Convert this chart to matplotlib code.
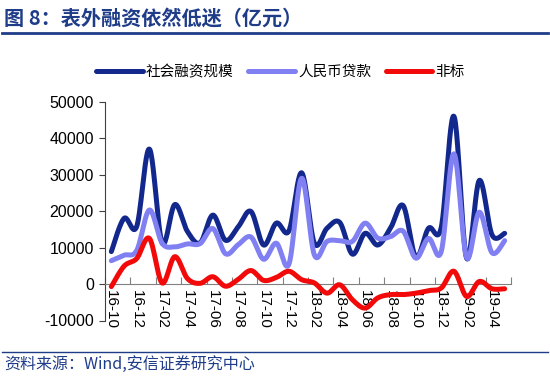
import numpy as np
import matplotlib
matplotlib.use('Agg')
import matplotlib.pyplot as plt
from matplotlib.lines import Line2D

months = ['16-10', '16-11', '16-12', '17-01', '17-02', '17-03', '17-04', '17-05',
          '17-06', '17-07', '17-08', '17-09', '17-10', '17-11', '17-12', '18-01',
          '18-02', '18-03', '18-04', '18-05', '18-06', '18-07', '18-08', '18-09',
          '18-10', '18-11', '18-12', '19-01', '19-02', '19-03', '19-04', '19-05']

tsf = [8900, 18000, 15800, 37000, 11300, 21800, 14400, 11300, 18900, 12000,
       15700, 19900, 10700, 16700, 14600, 30500, 11200, 15300, 16900, 8200,
       13900, 10700, 15300, 21500, 7400, 15300, 15500, 46000, 7100, 28400,
       13500, 13900]

loans = [6400, 7900, 9200, 20300, 11200, 10200, 11000, 11100, 15200, 8300,
         10800, 12900, 6800, 11200, 5500, 29000, 8000, 11700, 11900, 11700,
         16700, 12600, 13000, 14500, 7100, 12500, 8900, 35700, 7300, 19700,
         8600, 11900]

nonstd = [-700, 4900, 7000, 12500, 300, 7500, 1500, 200, 2000, -600,
          1300, 3700, 1000, 1800, 3500, 1200, 300, -2500, -200, -4300,
          -6600, -3800, -2900, -2900, -2500, -1800, -1100, 3500, -3400, 700,
          -1300, -1300]

series_names = ['社会融资规模', '人民币贷款', '非标']
series_colors = ['#13288C', '#8080F2', '#F20A0A']
yticks = [-10000, 0, 10000, 20000, 30000, 40000, 50000]

NAVY = '#1F3C88'
CJK = ['Noto Sans CJK SC', 'DejaVu Sans']
LAT = ['Liberation Sans', 'DejaVu Sans']


def smooth(xv, yv, n=24):
    xv = np.asarray(xv, float)
    yv = np.asarray(yv, float)
    px = np.concatenate([[xv[0]], xv, [xv[-1]]])
    py = np.concatenate([[yv[0]], yv, [yv[-1]]])
    t = np.linspace(0, 1, n, endpoint=False)
    ox, oy = [], []
    for i in range(1, len(px) - 2):
        for p, o in ((px, ox), (py, oy)):
            p0, p1, p2, p3 = p[i - 1], p[i], p[i + 1], p[i + 2]
            c1 = p1 + (p2 - p0) / 6.0
            c2 = p2 - (p3 - p1) / 6.0
            b = ((1 - t) ** 3 * p1 + 3 * (1 - t) ** 2 * t * c1
                 + 3 * (1 - t) * t ** 2 * c2 + t ** 3 * p2)
            o.extend(b)
    ox.append(xv[-1])
    oy.append(yv[-1])
    return np.array(ox), np.array(oy)


fig = plt.figure(figsize=(5.5, 3.76), dpi=100)
ax = fig.add_axes([105 / 550, 1 - 320.5 / 376, (511 - 105) / 550, (320.5 - 101.7) / 376])

for s in ['top', 'right']:
    ax.spines[s].set_visible(False)
ax.spines['bottom'].set_position(('data', 0))
ax.spines['bottom'].set_color('#808080')
ax.spines['left'].set_color('#404040')
ax.spines['left'].set_linewidth(0.8)

x = np.arange(len(months))
for vals, name, col, z in zip([tsf, loans, nonstd], series_names, series_colors, [3, 4, 5]):
    sx, sy = smooth(x, vals)
    ax.plot(sx, sy, color=col, lw=3.6, solid_capstyle='round', label=name, zorder=z)

ax.set_xlim(-0.5, len(months) - 0.5)
ax.set_ylim(-10000, 50000)
ax.set_yticks(yticks)
ax.set_yticklabels([str(v) for v in yticks], family=LAT, fontsize=11.5)
ax.tick_params(axis='y', direction='out', length=4, width=0.8, pad=4, color='#404040')

ax.set_xticks(x[::2])
ax.set_xticklabels(months[::2], family=LAT, fontsize=11)
ax.set_xticks(np.arange(-0.5, len(months), 2), minor=True)
ax.tick_params(axis='x', which='major', length=0, pad=4, labelrotation=-90)
ax.tick_params(axis='x', which='minor', direction='in', length=5, width=0.8, color='#808080')
for lab in ax.get_xticklabels():
    lab.set_va('top')
    lab.set_ha('center')

fig.legend(loc='center', bbox_to_anchor=(0.51, 1 - 72 / 376), ncol=3, frameon=False,
           prop={'family': CJK, 'size': 10.5}, handlelength=3.2, handletextpad=0.2,
           columnspacing=1.0)

fig.text(0.008, 1 - 18 / 376, '图 8：表外融资依然低迷（亿元）', fontsize=14.5, fontweight='bold',
         color=NAVY, family=CJK, va='center', ha='left')
fig.add_artist(Line2D([0.004, 0.996], [1 - 33 / 376] * 2, color=NAVY, lw=2))
fig.add_artist(Line2D([0.004, 0.996], [1 - 352 / 376] * 2, color=NAVY, lw=1))
fig.text(0.008, 1 - 364 / 376, '资料来源：Wind,安信证券研究中心', fontsize=11.5, style='italic',
         color=NAVY, family=CJK, va='center', ha='left')

fig.savefig('out.png', dpi=100)
